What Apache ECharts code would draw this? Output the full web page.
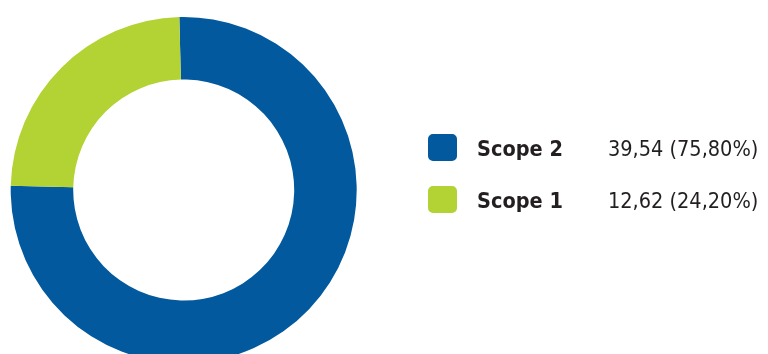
<!DOCTYPE html>
<html>
<head>
<meta charset="utf-8">
<script src="https://cdn.jsdelivr.net/npm/echarts@6/dist/echarts.min.js"></script>
<style>
  html, body { margin: 0; padding: 0; background: #ffffff; }
  #chart { width: 768px; height: 354px; }
</style>
</head>
<body>
<div id="chart"></div>
<script>
// Emission scopes shown in the donut and legend
const categories = ['Scope 2', 'Scope 1'];
const values = [39.54, 12.62];
const shares = [75.80, 24.20];
const colors = ['#02599e', '#b3d234'];

const fmt = (n) => n.toFixed(2).replace('.', ',');

const chart = echarts.init(document.getElementById('chart'), null, { renderer: 'canvas' });

chart.setOption({
  animation: false,
  color: colors,
  legend: {
    orient: 'vertical',
    left: 423,
    top: 129,
    itemWidth: 29,
    itemHeight: 27,
    itemGap: 25,
    icon: 'path://M5,0 H24 A5,5 0 0 1 29,5 V22 A5,5 0 0 1 24,27 H5 A5,5 0 0 1 0,22 V5 A5,5 0 0 1 5,0 Z',
    selectedMode: false,
    data: categories,
    formatter: (name) => {
      const i = categories.indexOf(name);
      return '{n|' + name + '}{v|' + fmt(values[i]) + ' (' + fmt(shares[i]) + '%)}';
    },
    textStyle: {
      rich: {
        n: {
          fontFamily: 'DejaVu Sans Condensed',
          fontWeight: 'bold',
          fontSize: 21.5,
          color: '#231f20',
          width: 131,
          padding: [5, 0, 0, 15]
        },
        v: {
          fontFamily: 'DejaVu Sans Condensed',
          fontSize: 21.5,
          color: '#231f20',
          padding: [5, 0, 0, 0]
        }
      }
    }
  },
  series: [{
    type: 'pie',
    center: [183.7, 190],
    radius: [110.5, 173],
    startAngle: 91.45,
    clockwise: true,
    silent: true,
    label: { show: false },
    labelLine: { show: false },
    emphasis: { disabled: true },
    itemStyle: { borderWidth: 0 },
    data: categories.map((name, i) => ({ name, value: values[i] }))
  }]
});
</script>
</body>
</html>
